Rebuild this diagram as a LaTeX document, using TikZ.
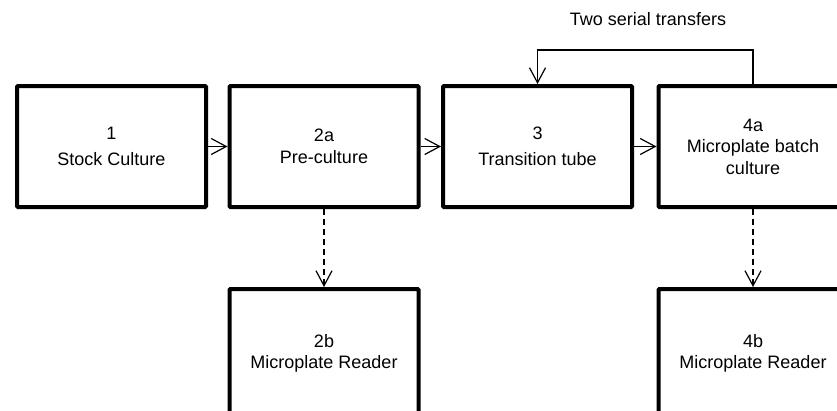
\documentclass[tikz,border=0pt]{standalone}
\usepackage{fontspec}
\setmainfont{Liberation Sans}
\usetikzlibrary{arrows.meta}

\tikzset{
  stage/.style={draw, line width=4pt, rounded corners=1pt, minimum width=189pt,
    minimum height=121pt, align=center, inner sep=0pt,
    font=\fontsize{18}{21.5}\selectfont},
  reader/.style={stage, minimum height=129pt},
  flow/.style={-{Straight Barb[length=15pt,width=16pt]}, line width=1.2pt},
  readout/.style={flow, dash pattern=on 6pt off 4pt}
}

\begin{document}
\begin{tikzpicture}[x=1pt,y=-1pt]
\clip (0,0) rectangle (837,410);
\path
(111.5,146.5) node[stage] (s1) {1\\[4pt]Stock Culture};
\path
(324,146.5) node[stage] (s2a) {2a\\Pre-culture};
\path
(537.5,146.5) node[stage] (s3) {3\\[4pt]Transition tube};
\path
(753,146.5) node[stage] (s4a) {4a\\Microplate batch\\culture};
\path
(324,353.5) node[reader] (s2b) {2b\\Microplate Reader};
\path
(753,353.5) node[reader] (s4b) {4b\\Microplate Reader};
\path
(648,19) node[font=\fontsize{18}{21.5}\selectfont] (loop) {Two serial transfers};
\draw[flow] (s1) -- (s2a);
\draw[flow] (s2a) -- (s3);
\draw[flow] (s3) -- (s4a);
\draw[readout] (s2a) -- (s2b);
\draw[readout] (s4a) -- (s4b);
\draw[flow] (s4a.north) -- ++(0,-34) -| (s3.north);
\end{tikzpicture}
\end{document}
